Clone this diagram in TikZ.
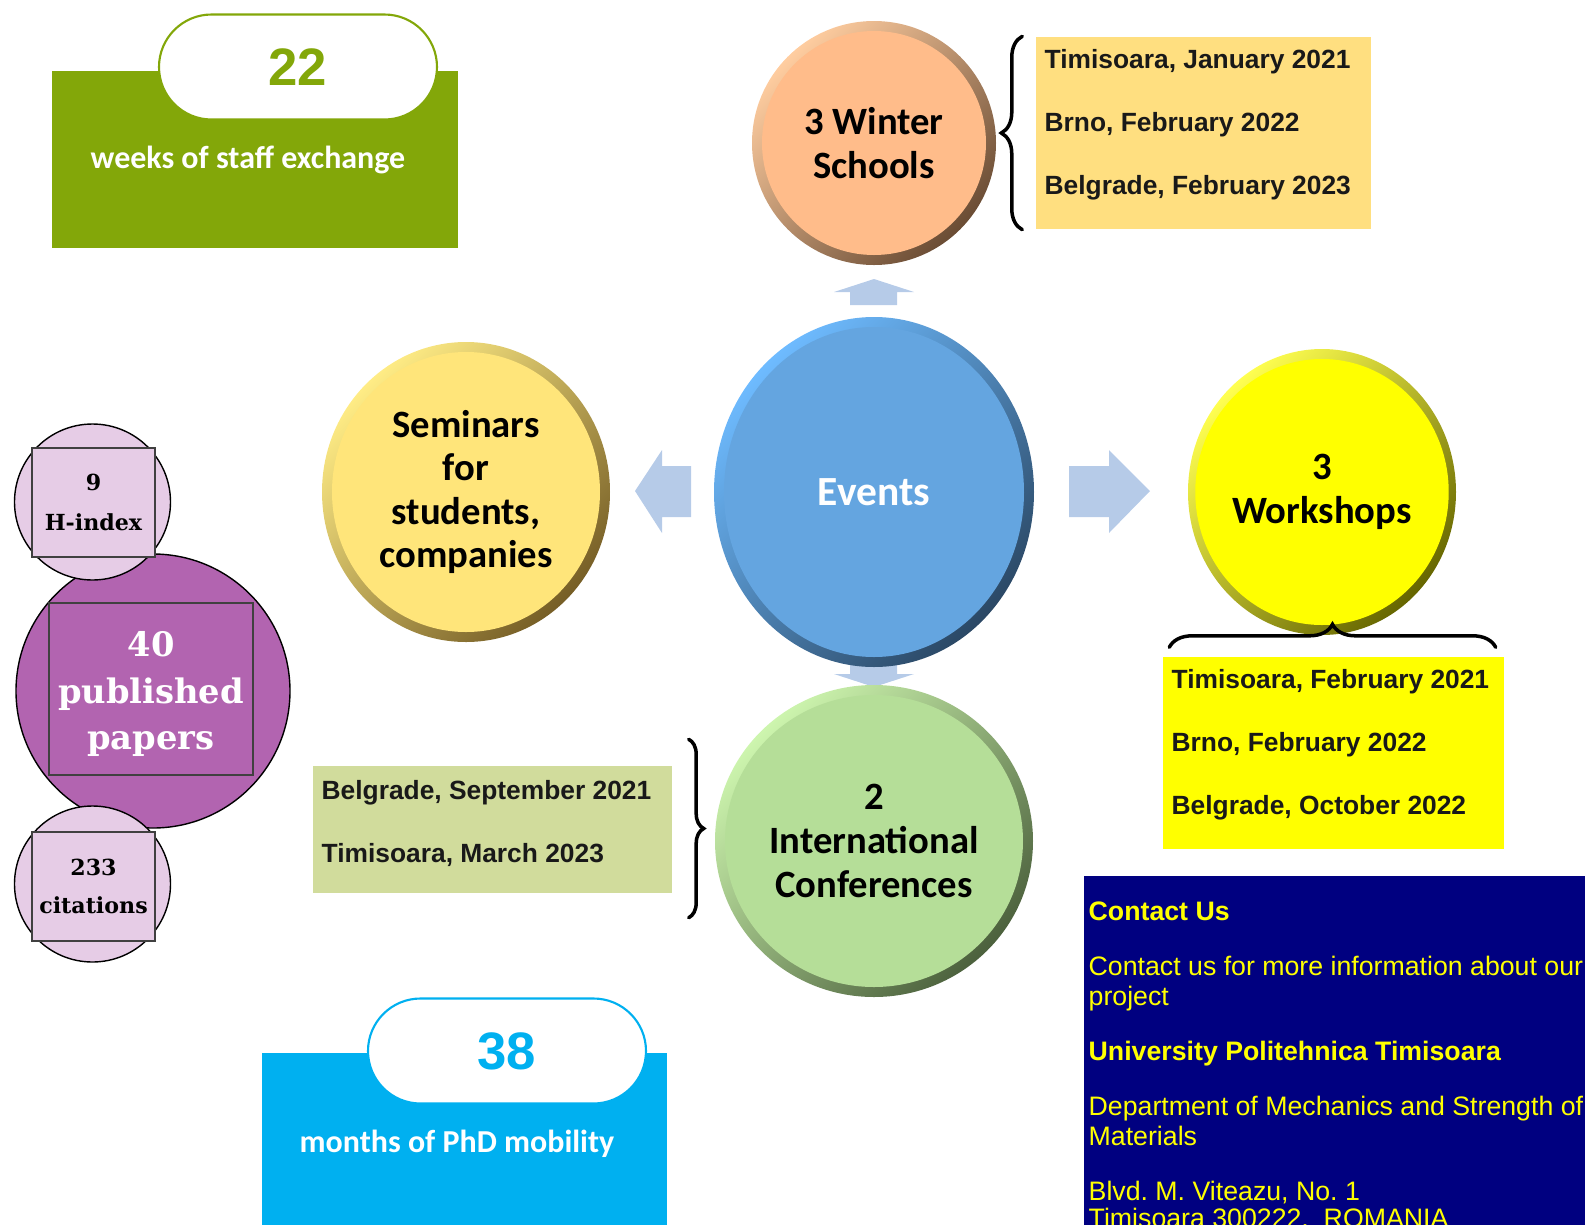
\documentclass[tikz,border=0pt]{standalone}
\usepackage{fontspec}
\setmainfont{Liberation Sans}
\newfontfamily\calibfont{Carlito}
\newfontfamily\slabfont{DejaVu Serif}
\usetikzlibrary{positioning,shapes.geometric,shapes.misc,decorations.pathreplacing}
\definecolor{staffgreen}{HTML}{83A709}
\definecolor{phdblue}{HTML}{00B0F0}
\definecolor{paperpurple}{HTML}{B264B0}
\definecolor{paperpink}{HTML}{E6CCE6}
\definecolor{arrowblue}{HTML}{B6CBE8}
\definecolor{eventblue}{HTML}{64A5E0}
\definecolor{eventrimA}{HTML}{6EBBFF}
\definecolor{eventrimB}{HTML}{2B4865}
\definecolor{winterorange}{HTML}{FFBC8A}
\definecolor{winterrimA}{HTML}{FFCDA0}
\definecolor{winterrimB}{HTML}{6A4C34}
\definecolor{seminaryellow}{HTML}{FFE57A}
\definecolor{seminarrimA}{HTML}{FFEC85}
\definecolor{seminarrimB}{HTML}{765E26}
\definecolor{workyellow}{HTML}{FFFF00}
\definecolor{workrimA}{HTML}{FFFF50}
\definecolor{workrimB}{HTML}{666600}
\definecolor{confgreen}{HTML}{B5DE98}
\definecolor{confrimA}{HTML}{CDF5AE}
\definecolor{confrimB}{HTML}{4C613D}
\definecolor{datesand}{HTML}{FFDF80}
\definecolor{confsage}{HTML}{D1DC9C}
\definecolor{contactnavy}{HTML}{000080}
\definecolor{contactyellow}{HTML}{FFFF00}
\tikzset{
  pill/.style={rounded rectangle, draw=#1, line width=0.6pt, fill=white, text=#1,
    minimum width=27.8mm, minimum height=10.5mm, inner sep=0pt,
    font=\bfseries\fontsize{15}{18}\selectfont},
  tally/.style={text=white, inner sep=0pt, font=\calibfont\bfseries\fontsize{9.1}{11}\selectfont},
  disc/.style={circle, draw, line width=0.4pt, inner sep=0pt},
  plate/.style={rectangle, draw=black!75, line width=0.4pt, align=center, inner sep=0pt},
  bubble/.style={ellipse, inner sep=0pt, align=center,
    font=\calibfont\bfseries\fontsize{11}{12.4}\selectfont},
  datebox/.style={rectangle, inner sep=0pt},
  dates/.style={anchor=north west, inner sep=0pt, align=left, text=black!90,
    font=\bfseries\fontsize{7.5}{17.9}\selectfont},
  blockarrow/.style={fill=arrowblue},
  bracket/.style={decorate, decoration={brace, amplitude=#1}, line width=1pt, line cap=round}
}
\begin{document}
\frenchspacing
\begin{tikzpicture}[x=0.1mm,y=-0.1mm]
\useasboundingbox (0,0) rectangle (1585,1225);

\fill[staffgreen] (52,71) rectangle (458,248);
\node[pill=staffgreen] (weeks) at (298,67) {22};
\node[tally] (weekslabel) at (248,160) {weeks of staff exchange};

\fill[phdblue] (262,1053) rectangle (667,1230);
\node[pill=phdblue] (months) at (507,1051) {38};
\node[tally] (monthslabel) at (457,1144) {months of PhD mobility};

\node[disc, fill=paperpurple, minimum size=27.4mm] (papersdisc) at (153,691) {};
\node[disc, fill=paperpink, minimum size=15.6mm] (hindexdisc) at (92.5,502) {};
\node[disc, fill=paperpink, minimum size=15.6mm] (citedisc) at (92.5,884) {};
\node[plate, fill=paperpink, minimum width=12.3mm, minimum height=10.9mm,
  font=\slabfont\bfseries\fontsize{6.3}{11.5}\selectfont] (hindex) at (93.5,502.5) {9\\H-index};
\node[plate, fill=paperpurple, minimum width=20.4mm, minimum height=17.2mm] (paperplate) at (151,689) {};
\node[text=white, align=center, inner sep=0pt,
  font=\slabfont\bfseries\fontsize{9.6}{13.2}\selectfont] (papers) at ([yshift=-0.5mm]paperplate.center) {40\\published\\papers};
\node[plate, fill=paperpink, minimum width=12.3mm, minimum height=10.9mm,
  font=\slabfont\bfseries\fontsize{6.3}{10.8}\selectfont] (citations) at (93.5,886.5) {233\\citations};

\fill[blockarrow] (850,305) -- (850,292) -- (834,292) -- (874,279) -- (914,292) -- (897,292) -- (897,305) -- cycle;
\fill[blockarrow] (850,660) -- (850,674) -- (834,674) -- (874,687) -- (914,674) -- (897,674) -- (897,660) -- cycle;
\fill[blockarrow] (691,466) -- (662,466) -- (662,450) -- (635,491) -- (662,533) -- (662,517) -- (691,517) -- cycle;
\fill[blockarrow] (1069,466) -- (1109,466) -- (1109,450) -- (1150,491) -- (1109,533) -- (1109,517) -- (1069,517) -- cycle;

\shade[top color=winterrimA, bottom color=winterrimB, shading angle=45] (874,143) ellipse (122 and 122);
\node[bubble, fill=winterorange, minimum width=22.4mm, minimum height=22.4mm] (winter) at (874,143) {3 Winter\\Schools};

\shade[top color=eventrimA, bottom color=eventrimB, shading angle=45] (874,492) ellipse (160 and 175);
\node[bubble, fill=eventblue, text=white, minimum width=30mm, minimum height=33mm,
  font=\calibfont\bfseries\fontsize{11.8}{14}\selectfont] (events) at (874,492) {Events};

\shade[top color=seminarrimA, bottom color=seminarrimB, shading angle=45] (466,492) ellipse (144 and 150);
\node[bubble, fill=seminaryellow, minimum width=26.8mm, minimum height=28mm] (seminars) at (466,492) {Seminars\\for\\students,\\companies};

\shade[top color=workrimA, bottom color=workrimB, shading angle=45] (1322,492) ellipse (134 and 143);
\node[bubble, fill=workyellow, minimum width=24.8mm, minimum height=26.6mm] (workshops) at (1322,492) {3\\Workshops};

\shade[top color=confrimA, bottom color=confrimB, shading angle=45] (874,841) ellipse (159 and 156);
\node[bubble, fill=confgreen, minimum width=29.8mm, minimum height=29.2mm] (conferences) at (874,841) {2\\International\\Conferences};

\node[datebox, fill=datesand, minimum width=33.5mm, minimum height=19.2mm] (wsbox) at (1203.5,133) {};
\node[dates] (wsdates) at (1044,49) {Timisoara, January 2021\\Brno, February 2022\\Belgrade, February 2023};
\draw[bracket=2.1mm] ([xshift=-1.3mm]wsbox.south west) -- ([xshift=-1.3mm]wsbox.north west);

\node[datebox, fill=workyellow, minimum width=34.1mm, minimum height=19.2mm] (wkbox) at (1333.5,753) {};
\node[dates] (wkdates) at (1171,669) {Timisoara, February 2021\\Brno, February 2022\\Belgrade, October 2022};
\draw[bracket=2.3mm] ([xshift=0.7mm,yshift=0.9mm]wkbox.north west) -- ([xshift=-0.9mm,yshift=0.9mm]wkbox.north east);

\node[datebox, fill=confsage, minimum width=35.9mm, minimum height=12.7mm] (confbox) at (492.5,829.5) {};
\node[dates] (confdates) at (321,780) {Belgrade, September 2021\\Timisoara, March 2023};
\draw[bracket=1.5mm] ([xshift=1.6mm,yshift=2.6mm]confbox.north east) -- ([xshift=1.6mm,yshift=-2.4mm]confbox.south east);

\fill[contactnavy] (1084,876) rectangle (1590,1230);
\node[anchor=north west, inner sep=0pt, align=left, text=contactyellow,
  font=\fontsize{7.6}{8.54}\selectfont] (contact) at (1088,901)
  {\textbf{Contact Us}\\[7.1pt]
   Contact us for more information about our\\project\\[7.1pt]
   \textbf{University Politehnica Timisoara}\\[7.1pt]
   Department of Mechanics and Strength of\\Materials\\[7.1pt]
   Blvd. M. Viteazu, No. 1\\[-0.8pt]
   Timisoara 300222,~ ROMANIA};
\end{tikzpicture}
\end{document}
